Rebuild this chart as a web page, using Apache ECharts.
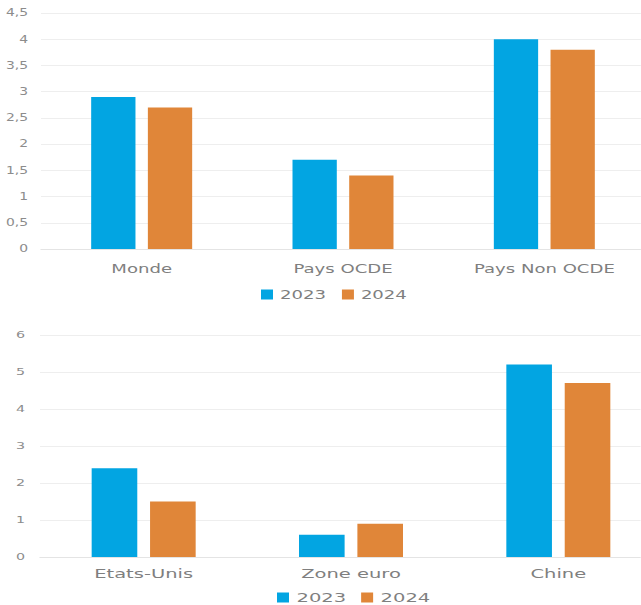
<!DOCTYPE html>
<html>
<head>
<meta charset="utf-8">
<script src="https://cdn.jsdelivr.net/npm/echarts@6/dist/echarts.min.js"></script>
<style>
  html, body { margin: 0; padding: 0; background: #fff; }
  #page { position: relative; width: 641px; height: 605px; overflow: hidden; }
  .panel { position: absolute; left: 0; transform-origin: 0 0; }
</style>
</head>
<body>
<div id="page">
  <div id="top" class="panel"></div>
  <div id="bottom" class="panel"></div>
</div>
<script>
// Growth forecasts (%), two panels: world groupings and major economies
const categoriesTop = ['Monde', 'Pays OCDE', 'Pays Non OCDE'];
const top2023 = [2.9, 1.7, 4.0];
const top2024 = [2.7, 1.4, 3.8];

const categoriesBottom = ['Etats-Unis', 'Zone euro', 'Chine'];
const bottom2023 = [2.4, 0.6, 5.2];
const bottom2024 = [1.5, 0.9, 4.7];

const seriesNames = ['2023', '2024'];
const colors = ['#02A5E2', '#E08639'];

const FONT = 'DejaVu Sans';
const PAGE_W = 641;
const comma = v => String(v).replace('.', ',');

// Each panel is laid out in a narrower box and widened horizontally,
// giving the broad, stretched lettering of the original slide.
function makePanel(id, cfg) {
  const k = cfg.stretch;
  const el = document.getElementById(id);
  const w = PAGE_W / k;
  el.style.top = cfg.offsetY + 'px';
  el.style.width = w + 'px';
  el.style.height = cfg.height + 'px';
  el.style.transform = 'scaleX(' + k + ')';
  const X = v => v / k;

  const chart = echarts.init(el, null, { renderer: 'svg' });
  chart.setOption({
    animation: false,
    color: colors,
    grid: {
      left: X(cfg.gridLeft), top: cfg.gridTop,
      width: X(cfg.gridWidth), height: cfg.gridHeight,
      outerBoundsMode: 'none'
    },
    xAxis: {
      type: 'category',
      data: cfg.categories,
      axisTick: { show: false },
      axisLine: { lineStyle: { color: '#e4e4e4' } },
      axisLabel: { color: '#7f7f7f', fontFamily: FONT, fontSize: 13, margin: cfg.catMargin }
    },
    yAxis: {
      type: 'value',
      min: 0,
      max: cfg.max,
      interval: cfg.interval,
      axisLine: { show: false },
      axisTick: { show: false },
      splitLine: { lineStyle: { color: '#eeeeee' } },
      axisLabel: {
        color: '#8c8c8c', fontFamily: FONT, fontSize: cfg.yFont,
        margin: X(cfg.gridLeft - cfg.yLabelRight), formatter: comma
      }
    },
    legend: {
      data: seriesNames,
      top: cfg.legendTop,
      left: X(cfg.legendLeft),
      padding: 0,
      itemWidth: X(12),
      itemHeight: 10,
      itemGap: X(cfg.legendGap),
      icon: 'rect',
      textStyle: { color: '#7f7f7f', fontFamily: FONT, fontSize: 13 }
    },
    series: [
      {
        name: seriesNames[0], type: 'bar', data: cfg.s2023,
        barWidth: '22%', barGap: '28%',
        itemStyle: { color: colors[0] }, emphasis: { disabled: true }
      },
      {
        name: seriesNames[1], type: 'bar', data: cfg.s2024,
        barWidth: '22%', barGap: '28%',
        itemStyle: { color: colors[1] }, emphasis: { disabled: true }
      }
    ]
  });
  return chart;
}

makePanel('top', {
  stretch: 1.39, offsetY: 0, height: 310,
  gridLeft: 41, gridWidth: 604, gridTop: 13, gridHeight: 236,
  yLabelRight: 28, yFont: 10, catMargin: 13,
  max: 4.5, interval: 0.5,
  categories: categoriesTop, s2023: top2023, s2024: top2024,
  legendTop: 288, legendLeft: 261, legendGap: 16
});

makePanel('bottom', {
  stretch: 1.5, offsetY: 310, height: 295,
  gridLeft: 40, gridWidth: 622, gridTop: 25, gridHeight: 222,
  yLabelRight: 25, yFont: 9.5, catMargin: 10,
  max: 6, interval: 1,
  categories: categoriesBottom, s2023: bottom2023, s2024: bottom2024,
  legendTop: 281, legendLeft: 277, legendGap: 15
});
</script>
</body>
</html>
